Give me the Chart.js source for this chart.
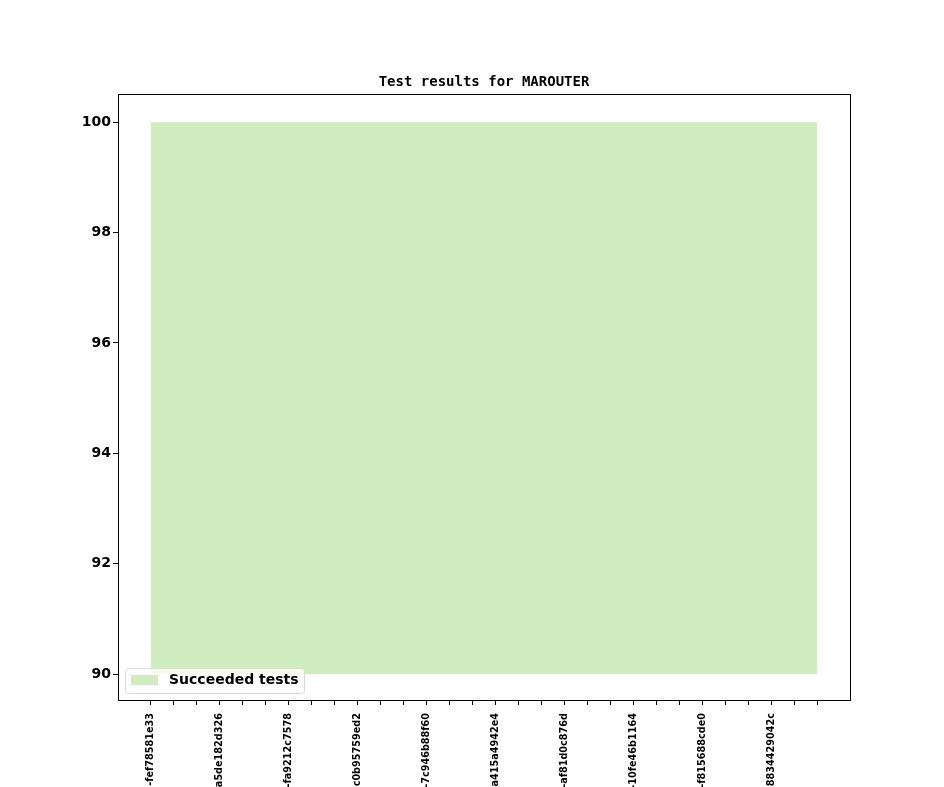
<!DOCTYPE html>
<html><head><meta charset="utf-8">
<script src="https://cdn.jsdelivr.net/npm/chart.js@4/dist/chart.umd.min.js"></script>
<style>html,body{margin:0;padding:0;background:#fff}#wrap{width:944px;height:787px}</style>
</head><body><div id="wrap"><canvas id="c" width="944" height="787"></canvas></div>
<script>
const chartTitle = 'Test results for MAROUTER';
const seriesLabel = 'Succeeded tests';
const categoryIndex = [0,1,2,3,4,5,6,7,8,9,10,11,12,13,14,15,16,17,18,19,20,21,22,23,24,25,26,27,28,29];
const succeeded = [100,100,100,100,100,100,100,100,100,100,100,100,100,100,100,100,100,100,100,100,100,100,100,100,100,100,100,100,100,100];
const fillBase = 90;
const tickLabels = ['-fef78581e33','a5de182d326','-fa9212c7578','c0b95759ed2','-7c946b88f60','a415a4942e4','-af81d0c876d','-10fe46b1164','-f815688cde0','8834429042c'];
const yTicks = [90,92,94,96,98,100];

const boxPlugin = {
  id: 'box',
  afterDraw(chart) {
    const {ctx, chartArea: a} = chart;
    ctx.save();
    ctx.strokeStyle = '#000'; ctx.lineWidth = 1;
    ctx.strokeRect(Math.round(a.left)+0.5, Math.round(a.top)+0.5, Math.round(a.right-a.left), Math.round(a.bottom-a.top));
    // title
    ctx.fillStyle = '#000';
    ctx.font = 'bold 14px "DejaVu Sans Mono"';
    ctx.textAlign = 'center'; ctx.textBaseline = 'alphabetic';
    ctx.fillText(chartTitle, (a.left + a.right)/2, a.top - 8);
    // legend
    const lx = a.left + 7, ly = a.bottom - 32, lw = 179, lh = 25;
    ctx.fillStyle = 'rgba(255,255,255,0.8)';
    ctx.strokeStyle = '#d9d9d9';
    ctx.beginPath();
    if (ctx.roundRect) ctx.roundRect(lx+0.5, ly+0.5, lw, lh, 3); else ctx.rect(lx+0.5, ly+0.5, lw, lh);
    ctx.fill(); ctx.stroke();
    const ds = chart.data.datasets[0];
    ctx.fillStyle = ds.backgroundColor;
    ctx.fillRect(lx + 6, ly + 7, 27, 10);
    ctx.fillStyle = '#000';
    ctx.font = 'bold 14px "DejaVu Sans"';
    ctx.textAlign = 'left'; ctx.textBaseline = 'middle';
    ctx.fillText(ds.label, lx + 44, ly + 12.5);
    ctx.restore();
  }
};

new Chart(document.getElementById('c'), {
  type: 'line',
  data: {
    datasets: [{
      label: seriesLabel,
      data: categoryIndex.map((x, i) => ({x, y: succeeded[i]})),
      backgroundColor: '#cfedbf',
      borderWidth: 0,
      borderColor: 'rgba(0,0,0,0)',
      pointRadius: 0,
      fill: {value: fillBase},
      tension: 0
    }]
  },
  options: {
    responsive: false,
    animation: false,
    devicePixelRatio: 1,
    layout: {padding: {top: 94, right: 94, left: 0, bottom: 0}},
    plugins: {legend: {display: false}, title: {display: false}, tooltip: {enabled: false}},
    scales: {
      x: {
        type: 'linear',
        min: -1.42, max: 30.42,
        afterBuildTicks: s => { s.ticks = categoryIndex.map(v => ({value: v})); },
        afterFit: s => { s.height = 87; },
        grid: {display: true, drawOnChartArea: false, drawTicks: true, tickLength: 5, color: '#000', tickColor: '#000'},
        border: {display: false},
        ticks: {
          autoSkip: false, maxRotation: 90, minRotation: 90, padding: 8, color: '#000',
          font: {family: 'DejaVu Sans', weight: 'bold', size: 9.7},
          callback: v => (v % 3 === 0 ? tickLabels[v / 3] : '')
        }
      },
      y: {
        min: 89.53, max: 100.51,
        afterBuildTicks: s => { s.ticks = yTicks.map(v => ({value: v})); },
        afterFit: s => { s.width = 118; },
        grid: {display: true, drawOnChartArea: false, drawTicks: true, tickLength: 5, color: '#000', tickColor: '#000'},
        border: {display: false},
        ticks: {color: '#000', padding: 2, font: {family: 'DejaVu Sans', weight: 'bold', size: 14}}
      }
    }
  },
  plugins: [boxPlugin]
});
</script></body></html>
